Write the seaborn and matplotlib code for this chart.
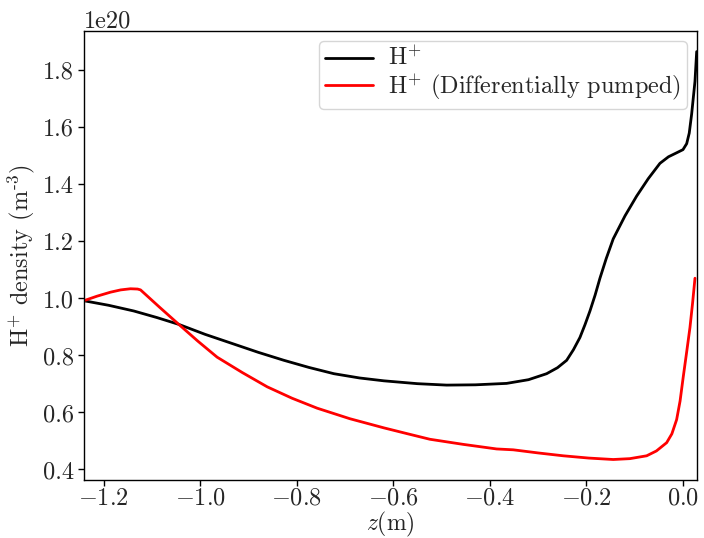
import numpy as np
import pandas as pd
import matplotlib
matplotlib.use("Agg")
import matplotlib.pyplot as plt
import matplotlib.ticker as mticker
import seaborn as sns

# Data (density in units of 1e20 m^-3)
z_h = [-1.2415, -1.19, -1.1378, -1.09, -1.0446, -0.99, -0.9306, -0.88, -0.8269,
       -0.775, -0.7233, -0.67, -0.6197, -0.55, -0.4897, -0.43, -0.3654, -0.32,
       -0.2825, -0.26, -0.2410, -0.2270, -0.2135, -0.2030, -0.1927, -0.1820,
       -0.1720, -0.1590, -0.1445, -0.1200, -0.0960, -0.0720, -0.0477, -0.030,
       -0.0131, 0.000, 0.0077, 0.013, 0.0180, 0.0249, 0.0284]
n_h = [0.992, 0.976, 0.956, 0.933, 0.909, 0.874, 0.840, 0.811, 0.783,
       0.758, 0.736, 0.721, 0.711, 0.701, 0.696, 0.697, 0.702, 0.715,
       0.736, 0.757, 0.783, 0.820, 0.863, 0.908, 0.956, 1.012,
       1.071, 1.140, 1.209, 1.290, 1.359, 1.420, 1.474, 1.497,
       1.511, 1.522, 1.543, 1.580, 1.647, 1.762, 1.866]

z_dp = [-1.2415, -1.2140, -1.1861, -1.1650, -1.1447, -1.1300, -1.1239, -1.0850,
        -1.0446, -1.0050, -0.9652, -0.9130, -0.8615, -0.8100, -0.7579, -0.6900,
        -0.6197, -0.5700, -0.5244, -0.4550, -0.3861, -0.3517, -0.3000, -0.2481,
        -0.1950, -0.1445, -0.1100, -0.0752, -0.0550, -0.0338, -0.0230, -0.0131,
        -0.0060, 0.0006, 0.0075, 0.0145, 0.0200, 0.0249]
n_dp = [0.992, 1.008, 1.022, 1.030, 1.034, 1.033, 1.030, 0.970,
        0.909, 0.850, 0.794, 0.740, 0.690, 0.650, 0.615, 0.578,
        0.546, 0.525, 0.506, 0.488, 0.472, 0.469, 0.458, 0.448,
        0.440, 0.435, 0.438, 0.448, 0.465, 0.494, 0.525, 0.575,
        0.640, 0.725, 0.810, 0.898, 0.985, 1.071]

labels = [r"H$^{+}$", r"H$^{+}$ (Differentially pumped)"]
colors = ["black", "red"]

sns.set_style("ticks")
plt.rcParams["font.family"] = ["cmr10", "DejaVu Serif"]
plt.rcParams["mathtext.fontset"] = "cm"
plt.rcParams["axes.formatter.use_mathtext"] = False
plt.rcParams["axes.unicode_minus"] = False
plt.rcParams["xtick.direction"] = "out"
plt.rcParams["ytick.direction"] = "out"

df = pd.concat([
    pd.DataFrame({"z": z_h, "n": np.array(n_h) * 1e20, "series": labels[0]}),
    pd.DataFrame({"z": z_dp, "n": np.array(n_dp) * 1e20, "series": labels[1]}),
])

FS = 17.5
fig = plt.figure(figsize=(7.04, 5.38), dpi=100)
ax = fig.add_axes([0.119, 0.108, 0.871, 0.834])

sns.lineplot(data=df, x="z", y="n", hue="series", palette=colors,
             sort=False, estimator=None, linewidth=2, ax=ax)

ax.set_xlim(-1.2415, 0.0290)
for s in ax.spines.values():
    s.set_visible(True)
    s.set_linewidth(1.0)
    s.set_color("black")

ax.xaxis.set_major_locator(mticker.MultipleLocator(0.2))
ax.xaxis.set_major_formatter(mticker.FuncFormatter(lambda v, p: r"$%.1f$" % (0.0 if abs(v) < 1e-9 else v)))
ax.tick_params(labelsize=FS, length=4, width=1, color="black", pad=3)
ax.tick_params(axis="x", pad=1.5)
ax.yaxis.get_offset_text().set_fontsize(FS)

ax.set_xlabel(r"$z$(m)", fontsize=17, labelpad=0)
ax.set_ylabel(r"H$^{+}$ density (m$^{\text{-3}}$)", fontsize=FS, labelpad=4)

leg = ax.legend(fontsize=FS, loc="upper right", handlelength=2, borderaxespad=0.4,
                labelspacing=0.05, borderpad=0.25, handletextpad=0.6)
leg.get_frame().set_edgecolor("#cccccc")

fig.savefig("out.png", dpi=100)
